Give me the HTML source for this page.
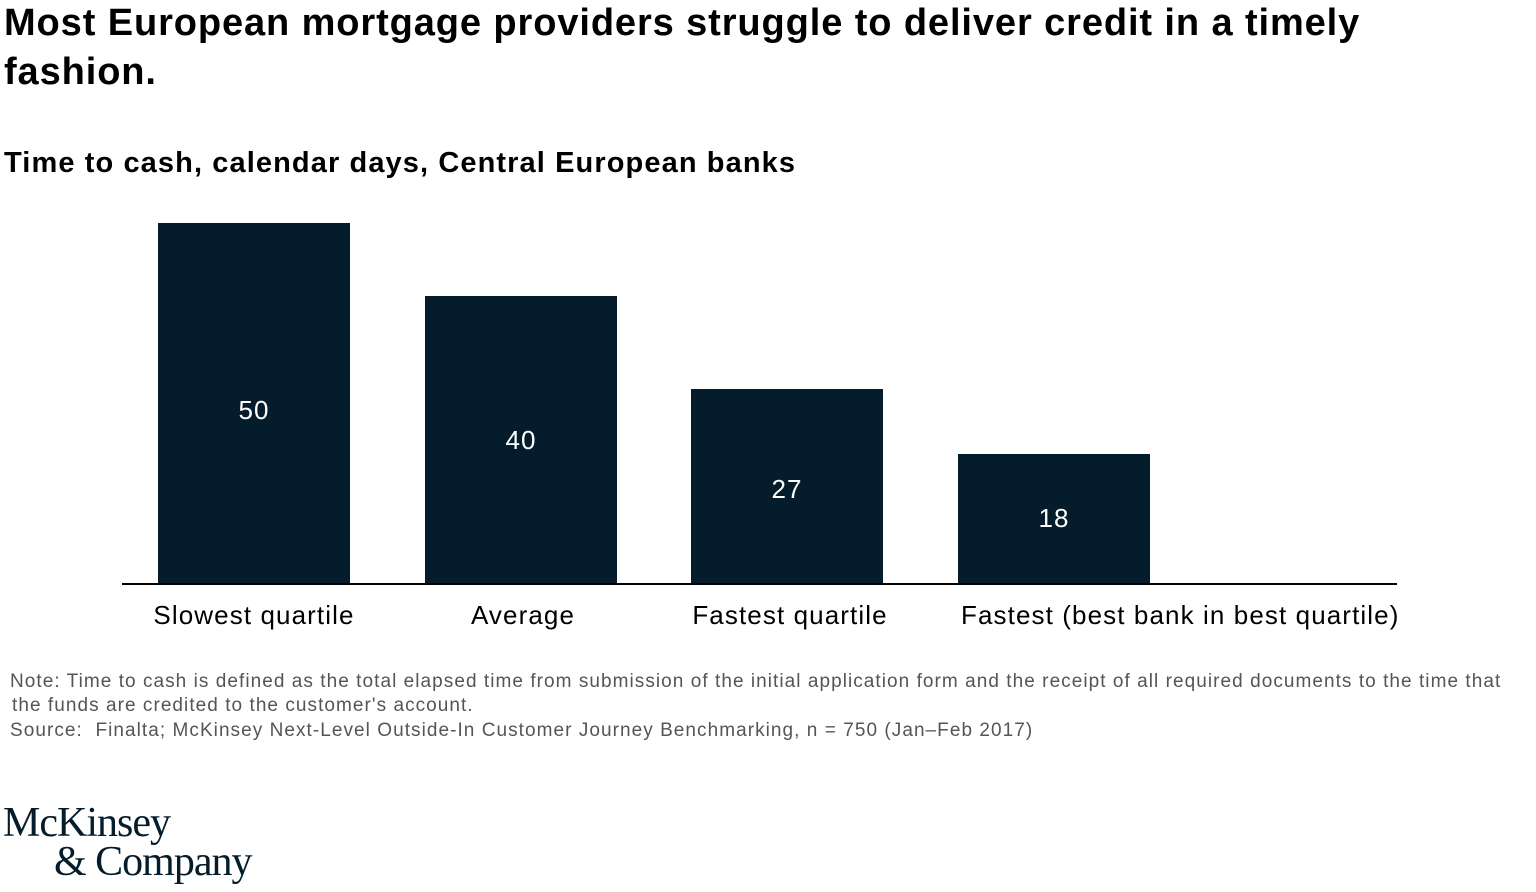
<!DOCTYPE html>
<html><head><meta charset="utf-8"><style>
body{margin:0;width:1536px;height:892px;background:#fff;position:relative;overflow:hidden;font-family:"Liberation Sans",sans-serif;color:#000}
.a{position:absolute;white-space:nowrap}
.t{font-weight:bold;font-size:38px;letter-spacing:0.9px;left:4px;line-height:49px;top:-1px}
.s{font-weight:bold;font-size:29px;letter-spacing:1.1px;left:4px;top:147px}
.bar{position:absolute;background:#051c2c;width:192px;bottom:307px}
.v{position:absolute;color:#fff;font-size:26px;width:192px;text-align:center;letter-spacing:1px}
.l{font-size:26px;top:600px;text-align:center;letter-spacing:1.1px}
.n{font-size:19px;color:#555;left:10px;letter-spacing:1.05px}
.logo{font-family:"Liberation Serif",serif;color:#051c2c;font-size:42px;letter-spacing:-1px}
</style></head><body>
<div class="a t">Most European mortgage providers struggle to deliver credit in a timely<br>fashion.</div>
<div class="a s">Time to cash, calendar days, Central European banks</div>
<div class="bar" style="left:158px;top:223px"></div>
<div class="bar" style="left:425px;top:296px"></div>
<div class="bar" style="left:691px;top:389px"></div>
<div class="bar" style="left:958px;top:454px"></div>
<div class="v" style="left:158px;top:395px">50</div>
<div class="v" style="left:425px;top:425px">40</div>
<div class="v" style="left:691px;top:474px">27</div>
<div class="v" style="left:958px;top:503px">18</div>
<div class="a" style="left:122px;top:583px;width:1275px;height:2px;background:#000"></div>
<div class="a l" style="left:134px;width:240px">Slowest quartile</div>
<div class="a l" style="left:403px;width:240px">Average</div>
<div class="a l" style="left:670px;width:240px">Fastest quartile</div>
<div class="a l" style="left:961px">Fastest (best bank in best quartile)</div>
<div class="a n" style="top:671px">Note: Time to cash is defined as the total elapsed time from submission of the initial application form and the receipt of all required documents to the time that</div>
<div class="a n" style="top:695px;left:12px">the funds are credited to the customer's account.</div>
<div class="a n" style="top:720px">Source:&nbsp; Finalta; McKinsey Next-Level Outside-In Customer Journey Benchmarking, n = 750 (Jan–Feb 2017)</div>
<div class="a logo" style="left:3px;top:799px">McKinsey</div>
<div class="a logo" style="left:54px;top:838px">&amp; Company</div>
</body></html>
